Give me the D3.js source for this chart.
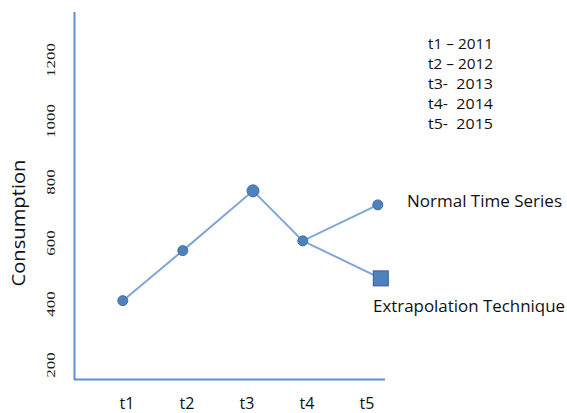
<!DOCTYPE html>
<html><head><meta charset="utf-8">
<script src="https://cdn.jsdelivr.net/npm/d3@7"></script>
<style>body{margin:0;background:#fff}svg{display:block}text{white-space:pre}</style>
</head><body><svg id="c" width="567" height="413"></svg>
<script>
// data
const categories = ["t1","t2","t3","t4","t5"];
const categoryPos = [1,2,3,4,5];
const yTicks = [200,400,600,800,1000,1200];
const normalX = [0.93,1.93,3.1,3.93,5.18];
const normalY = [411,575,771,607,725];
const extrapX = [3.93,5.23];
const extrapY = [607,484];
const legendLines = ["t1 \u2013 2011","t2 \u2013 2012","t3-  2013","t4-  2014","t5-  2015"];
const seriesLabels = ["Normal Time Series","Extrapolation Technique"];
const yTitle = "Consumption";

const svg = d3.select("#c");
const x = d3.scaleLinear().domain([1,5]).range([127,367]);
const y = d3.scaleLinear().domain([200,1200]).range([365,60]);

// axes frame
const axisColor = "#5b8fd6";
svg.append("line").attr("x1",74.5).attr("x2",74.5).attr("y1",12).attr("y2",380)
  .attr("stroke",axisColor).attr("stroke-width",2);
svg.append("line").attr("x1",74).attr("x2",385).attr("y1",379.5).attr("y2",379.5)
  .attr("stroke",axisColor).attr("stroke-width",2);

// y tick labels (rotated)
svg.selectAll(".yt").data(yTicks).join("text")
  .attr("transform",d=>`translate(51,${y(d)}) rotate(-90)`)
  .attr("text-anchor","middle").attr("dominant-baseline","central")
  .attr("font-family","Liberation Serif").attr("font-size",12).attr("fill","#222")
  .attr("textLength",d=>String(d).length*8.5).attr("lengthAdjust","spacingAndGlyphs")
  .text(d=>d);

// y title
svg.append("text").attr("transform",`translate(25,223) rotate(-90)`)
  .attr("text-anchor","middle").attr("font-family","Open Sans").attr("font-size",17.5)
  .attr("textLength",127).attr("lengthAdjust","spacingAndGlyphs")
  .attr("fill","#111").text(yTitle);

// x labels
svg.selectAll(".xt").data(categories).join("text")
  .attr("x",(d,i)=>x(categoryPos[i])).attr("y",408.5).attr("text-anchor","middle")
  .attr("font-family","Open Sans").attr("font-size",16).attr("fill","#111").text(d=>d);

// lines
const lineColor = "#7fa6d8";
const line = d3.line().x(d=>x(d[0])).y(d=>y(d[1]));
svg.append("path").datum(normalX.map((v,i)=>[v,normalY[i]])).attr("d",line)
  .attr("fill","none").attr("stroke",lineColor).attr("stroke-width",2);
svg.append("path").datum(extrapX.map((v,i)=>[v,extrapY[i]])).attr("d",line)
  .attr("fill","none").attr("stroke",lineColor).attr("stroke-width",2);

// markers
svg.selectAll(".pt").data(normalX.map((v,i)=>[v,normalY[i]])).join("circle")
  .attr("cx",d=>x(d[0])).attr("cy",d=>y(d[1])).attr("r",(d,i)=>i===2?6:5)
  .attr("fill","#4f81bd").attr("stroke","#3f6ea8").attr("stroke-width",1);
const sq = 15;
svg.append("rect").attr("x",x(extrapX[1])-sq/2).attr("y",y(extrapY[1])-sq/2)
  .attr("width",sq).attr("height",sq).attr("fill","#4f81bd").attr("stroke","#385d8a").attr("stroke-width",1);

// series labels
svg.append("text").attr("x",407).attr("y",200).attr("dominant-baseline","central")
  .attr("font-family","Open Sans").attr("font-size",17).attr("fill","#111")
  .attr("textLength",155).attr("lengthAdjust","spacingAndGlyphs").text(seriesLabels[0]);
svg.append("text").attr("x",373).attr("y",305).attr("dominant-baseline","central")
  .attr("font-family","Open Sans").attr("font-size",17).attr("fill","#111")
  .attr("textLength",192).attr("lengthAdjust","spacingAndGlyphs").text(seriesLabels[1]);

// legend
svg.selectAll(".lg").data(legendLines).join("text")
  .attr("x",428).attr("y",(d,i)=>43+i*20).attr("dominant-baseline","central")
  .attr("font-family","Open Sans").attr("font-size",14).attr("fill","#111")
  .attr("textLength",65).attr("lengthAdjust","spacingAndGlyphs").text(d=>d);
</script></body></html>
